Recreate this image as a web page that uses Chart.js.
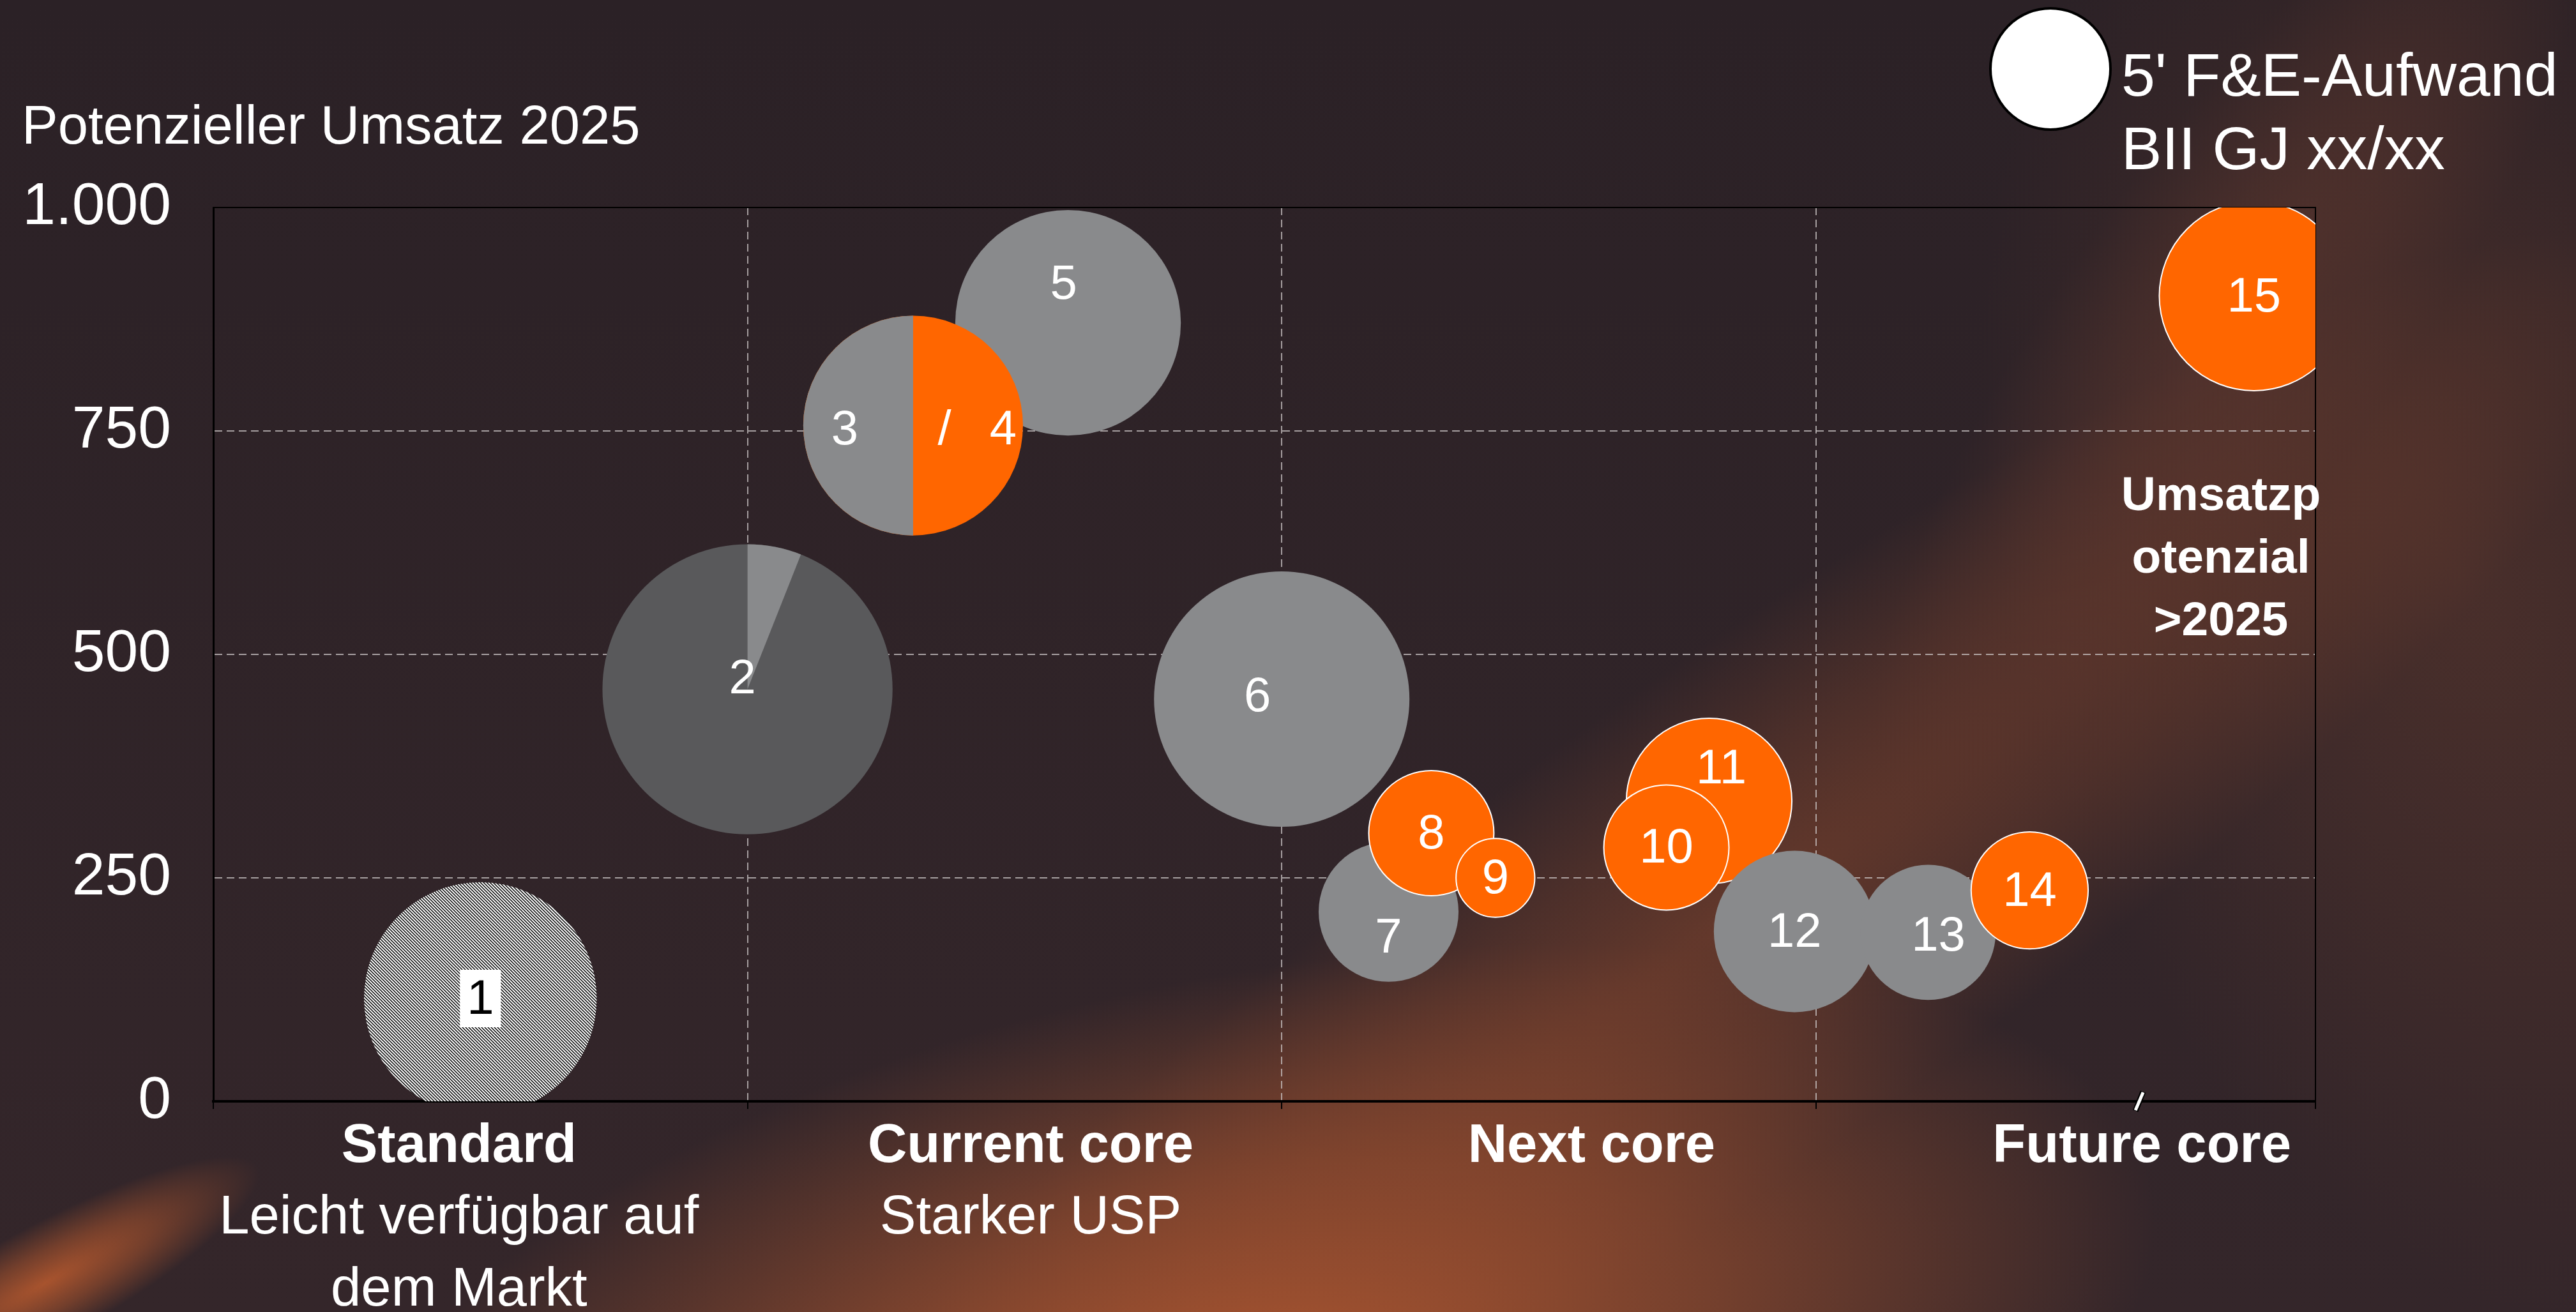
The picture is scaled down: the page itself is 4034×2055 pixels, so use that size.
<!DOCTYPE html>
<html lang="de">
<head>
<meta charset="utf-8">
<title>Potenzieller Umsatz 2025</title>
<script src="https://cdn.jsdelivr.net/npm/chart.js@4.4.1/dist/chart.umd.min.js"></script>
<style>
  html, body { margin: 0; padding: 0; background: #2c2227; overflow: hidden; }
  #wrap { position: relative; width: 4034px; height: 2055px; }
</style>
</head>
<body>
<div id="wrap"><canvas id="c"></canvas></div>
<script>
// ---- Portfolio data -------------------------------------------------------
// Project numbers (3 and 4 share one bubble)
const projectIds  = ['1', '2', '3/4', '5', '6', '7', '8', '9', '10', '11', '12', '13', '14', '15'];
// Position on the maturity axis (0 = Standard ... 4 = Future core)
const segmentPos  = [0.50, 1.00, 1.31, 1.60, 2.00, 2.20, 2.28, 2.40, 2.72, 2.80, 2.96, 3.21, 3.40, 3.82];
// Potential revenue 2025
const revenue2025 = [115, 461, 756, 871, 450, 212, 300, 250, 284, 336, 190, 189, 236, 901];
// 5-year R&D spend (bubble area)
const rdSpend     = [83, 129, 74, 78, 100, 30, 24, 9.5, 24, 42, 40, 28, 21, 55];
// Project status
const status      = ['extern', 'mix', 'split', 'laufend', 'laufend', 'laufend', 'neu', 'neu', 'neu', 'neu', 'laufend', 'laufend', 'neu', 'neu'];
// Secondary share inside a bubble (wedge of project 2, project 3 half of 3/4)
const innerShare  = [0, 0.06, 0.5, 0, 0, 0, 0, 0, 0, 0, 0, 0, 0, 0];

// Axis texts
const revenueTicks  = [0, 250, 500, 750, 1000];
const segmentBounds = [0, 1, 2, 3, 3.935];
const segmentNames  = ['Standard', 'Current core', 'Next core', 'Future core'];
const segmentNotes  = [['Leicht verfügbar auf', 'dem Markt'], ['Starker USP'], [], []];
const outlookNote   = ['Umsatzp', 'otenzial', '>2025'];

// Drawing order (later ones on top)
const zOrder = ['1', '2', '5', '3/4', '6', '7', '8', '9', '11', '10', '12', '13', '14', '15'];

// ---- Styling ---------------------------------------------------------------
const FONT = "'Liberation Sans', Arial, Helvetica, sans-serif";
const ORANGE = '#ff6600';
const GREY = '#898a8c';
const DARK_GREY = '#59595b';
const RADIUS_PER_UNIT = 20;         // px per sqrt(spend)
const segmentLabelAt = [0.46, 1.53, 2.58, 3.61];
const labelShift = { '2': [-8, -18], '5': [-7, -62], '6': [-38, -5], '7': [0, 40], '11': [19, -52], '13': [16, 5] };

const canvas = document.getElementById('c');

// fine diagonal hatching for the market standard bubble
const hatchTile = (() => {
  const t = document.createElement('canvas');
  t.width = t.height = 5;
  const g = t.getContext('2d');
  g.fillStyle = '#ffffff'; g.fillRect(0, 0, 5, 5);
  g.strokeStyle = '#000000'; g.lineWidth = 1.5;
  g.beginPath();
  g.moveTo(-1, -1); g.lineTo(6, 6);
  g.moveTo(-1, 4); g.lineTo(1, 6);
  g.moveTo(4, -1); g.lineTo(6, 1);
  g.stroke();
  return t;
})();
const hatch = canvas.getContext('2d').createPattern(hatchTile, 'repeat');

const fillFor = { extern: hatch, mix: DARK_GREY, split: ORANGE, laufend: GREY, neu: ORANGE };

const points = zOrder.map(id => {
  const i = projectIds.indexOf(id);
  return { x: segmentPos[i], y: revenue2025[i], r: RADIUS_PER_UNIT * Math.sqrt(rdSpend[i]), id, idx: i };
});

// ---- Plugins ---------------------------------------------------------------
function glow(ctx, cx, cy, rx, ry, rot, rgb, alpha) {
  ctx.save();
  ctx.translate(cx, cy);
  ctx.rotate(rot);
  ctx.scale(1, ry / rx);
  const g = ctx.createRadialGradient(0, 0, 0, 0, 0, rx);
  g.addColorStop(0, `rgba(${rgb},${alpha})`);
  g.addColorStop(0.5, `rgba(${rgb},${alpha * 0.55})`);
  g.addColorStop(1, `rgba(${rgb},0)`);
  ctx.fillStyle = g;
  ctx.fillRect(-rx, -rx, rx * 2, rx * 2);
  ctx.restore();
}

const backdrop = {
  id: 'backdrop',
  beforeDraw(chart) {
    const { ctx, width, height } = chart;
    ctx.save();
    const base = ctx.createLinearGradient(0, 0, 0, height);
    base.addColorStop(0, '#2b2126');
    base.addColorStop(1, '#34262a');
    ctx.fillStyle = base;
    ctx.fillRect(0, 0, width, height);
    // brown haze on the right
    glow(ctx, 3850, 900, 1200, 700, 1.3, '85,52,44', 0.7);
    // broad warm glow along the bottom
    glow(ctx, 1950, 2150, 1450, 620, -0.2, '172,86,48', 1.0);
    // diagonal light band rising to the upper right
    glow(ctx, 2700, 1450, 1800, 380, -0.62, '150,76,46', 0.5);
    glow(ctx, 3500, 500, 900, 260, -0.95, '120,66,50', 0.35);
    // streak in the lower left corner
    glow(ctx, 70, 2010, 380, 90, -0.5, '180,88,46', 0.9);
    ctx.restore();
  }
};

const frame = {
  id: 'frame',
  beforeDatasetsDraw(chart) {
    const { ctx, chartArea: a } = chart;
    ctx.save();
    ctx.strokeStyle = '#000';
    ctx.lineWidth = 2;
    ctx.beginPath();
    ctx.moveTo(a.left, a.top); ctx.lineTo(a.right, a.top); ctx.lineTo(a.right, a.bottom);
    ctx.stroke();
    ctx.restore();
  }
};

const bubbleInlays = {
  id: 'bubbleInlays',
  afterDatasetsDraw(chart) {
    const { ctx, chartArea: a } = chart;
    const meta = chart.getDatasetMeta(0);
    ctx.save();
    ctx.beginPath(); ctx.rect(a.left, a.top, a.right - a.left, a.bottom - a.top); ctx.clip();
    meta.data.forEach((el, k) => {
      const p = points[k];
      const st = status[p.idx];
      const r = el.options.radius;
      if (st === 'mix') {
        const start = -Math.PI / 2;
        ctx.fillStyle = GREY;
        ctx.beginPath();
        ctx.moveTo(el.x, el.y);
        ctx.arc(el.x, el.y, r, start, start + innerShare[p.idx] * Math.PI * 2);
        ctx.closePath(); ctx.fill();
      } else if (st === 'split') {
        const span = innerShare[p.idx] * Math.PI * 2;
        ctx.fillStyle = GREY;
        ctx.beginPath();
        ctx.moveTo(el.x, el.y);
        ctx.arc(el.x, el.y, r, -Math.PI / 2 - span, -Math.PI / 2);
        ctx.closePath(); ctx.fill();
      }
    });
    ctx.restore();
  }
};

const bubbleLabels = {
  id: 'bubbleLabels',
  afterDatasetsDraw(chart) {
    const { ctx } = chart;
    const meta = chart.getDatasetMeta(0);
    ctx.save();
    ctx.textAlign = 'center';
    ctx.textBaseline = 'middle';
    ctx.font = `76px ${FONT}`;
    meta.data.forEach((el, k) => {
      const p = points[k];
      const st = status[p.idx];
      const [dx, dy] = labelShift[p.id] || [0, 0];
      const x = el.x + dx, y = el.y + dy;
      if (st === 'extern') {
        ctx.fillStyle = '#fff';
        ctx.fillRect(x - 32, y - 45, 64, 90);
        ctx.fillStyle = '#000';
        ctx.fillText(p.id, x, y + 3);
      } else if (st === 'split') {
        const [a, b] = p.id.split('/');
        ctx.fillStyle = '#fff';
        ctx.fillText(a, x - 107, y + 8);
        ctx.fillText('/', x + 49, y + 8);
        ctx.fillText(b, x + 141, y + 8);
      } else {
        ctx.fillStyle = '#fff';
        ctx.fillText(p.id, x, y + 3);
      }
    });
    ctx.restore();
  }
};

const annotations = {
  id: 'annotations',
  afterDraw(chart) {
    const { ctx, chartArea: a } = chart;
    const xs = chart.scales.x;
    ctx.save();
    ctx.fillStyle = '#fff';
    ctx.textBaseline = 'alphabetic';

    // axis title
    ctx.textAlign = 'left';
    ctx.font = `85px ${FONT}`;
    ctx.fillText('Potenzieller Umsatz 2025', 34, 225);

    // bubble size key
    ctx.beginPath();
    ctx.ellipse(3211, 108, 94, 95, 0, 0, Math.PI * 2);
    ctx.fillStyle = '#fff'; ctx.fill();
    ctx.lineWidth = 4; ctx.strokeStyle = '#000'; ctx.stroke();
    ctx.fillStyle = '#fff';
    ctx.font = `95px ${FONT}`;
    ctx.fillText("5' F&E-Aufwand", 3322, 150);
    ctx.fillText('BII GJ xx/xx', 3322, 265);

    // maturity segments
    ctx.textAlign = 'center';
    segmentNames.forEach((name, k) => {
      const cx = xs.getPixelForValue(segmentLabelAt[k]);
      ctx.font = `bold 85px ${FONT}`;
      ctx.fillText(name, cx, a.bottom + 95);
      ctx.font = `85px ${FONT}`;
      segmentNotes[k].forEach((line, j) => ctx.fillText(line, cx, a.bottom + 207 + j * 113));
    });

    // revenue beyond 2025
    ctx.font = `bold 75px ${FONT}`;
    outlookNote.forEach((line, j) => ctx.fillText(line, a.right - 148, 799 + j * 98));

    // small break mark on the x axis
    const bx = xs.getPixelForValue(3.61) - 4;
    ctx.lineCap = 'butt';
    ctx.beginPath(); ctx.moveTo(bx - 6, a.bottom + 15); ctx.lineTo(bx + 6, a.bottom - 15);
    ctx.strokeStyle = '#000'; ctx.lineWidth = 9; ctx.stroke();
    ctx.beginPath(); ctx.moveTo(bx - 6, a.bottom + 14); ctx.lineTo(bx + 6, a.bottom - 14);
    ctx.strokeStyle = '#fff'; ctx.lineWidth = 5; ctx.stroke();
    ctx.restore();
  }
};

// ---- Chart -----------------------------------------------------------------
const gridDash = [12, 7];
const innerGrid = (vals) => (c) => (c.tick && vals.includes(c.tick.value)) ? 'rgba(205,200,200,0.75)' : 'rgba(0,0,0,0)';

new Chart(canvas, {
  type: 'bubble',
  data: {
    datasets: [{
      data: points,
      clip: 0,
      backgroundColor: c => fillFor[status[points[c.dataIndex].idx]],
      borderColor: c => (status[points[c.dataIndex].idx] === 'neu') ? '#ffffff' : 'rgba(0,0,0,0)',
      borderWidth: c => (status[points[c.dataIndex].idx] === 'neu') ? 2 : 0,
      hoverRadius: 0
    }]
  },
  options: {
    responsive: true,
    maintainAspectRatio: false,
    animation: false,
    events: [],
    layout: { padding: { top: 325, right: 408, left: 0, bottom: 0 } },
    plugins: { legend: { display: false }, tooltip: { enabled: false } },
    scales: {
      x: {
        type: 'linear',
        min: segmentBounds[0],
        max: segmentBounds[segmentBounds.length - 1],
        afterBuildTicks: s => { s.ticks = segmentBounds.map(v => ({ value: v })); },
        afterFit: s => { s.height = 330; },
        ticks: { display: false },
        grid: { color: innerGrid([1, 2, 3]), lineWidth: 2, drawTicks: true, tickLength: 12, tickColor: '#000', tickWidth: 2 },
        border: { display: true, color: '#000', width: 4, dash: gridDash }
      },
      y: {
        type: 'linear',
        min: 0,
        max: 1000,
        afterBuildTicks: s => { s.ticks = revenueTicks.map(v => ({ value: v })); },
        afterFit: s => { s.width = 334; },
        ticks: {
          color: '#ffffff',
          padding: 66,
          font: { family: FONT, size: 93 },
          callback: v => v.toLocaleString('de-DE')
        },
        grid: { color: innerGrid([250, 500, 750]), lineWidth: 2, drawTicks: false },
        border: { display: true, color: '#000', width: 3, dash: gridDash }
      }
    }
  },
  plugins: [backdrop, frame, bubbleInlays, bubbleLabels, annotations]
});
</script>
</body>
</html>
